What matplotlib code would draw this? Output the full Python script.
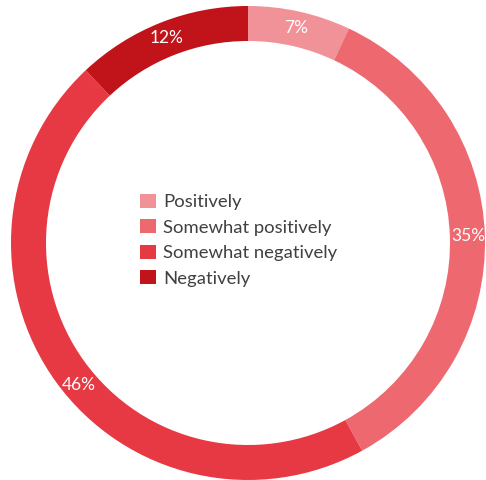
import matplotlib
matplotlib.use("Agg")
import matplotlib.pyplot as plt
import numpy as np

categories = ["Positively", "Somewhat positively", "Somewhat negatively", "Negatively"]
shares = [7, 35, 46, 12]
colors = ["#F19299", "#EE686F", "#E63944", "#C0141A"]
# small angular nudges (degrees) for the percentage labels
label_nudge = [0, 0, 4, 0]

W, H, DPI = 486, 480, 100
fig = plt.figure(figsize=(W / DPI, H / DPI), dpi=DPI)

cx, cy, R = 248, 243, 237
ax = fig.add_axes([(cx - R) / W, (H - cy - R) / H, 2 * R / W, 2 * R / H])
ax.set_aspect("equal")
ax.axis("off")

ring = 35 / R
wedges, _ = ax.pie(shares, colors=colors, startangle=90, counterclock=False,
                   radius=1.0, wedgeprops=dict(width=ring, linewidth=0))
ax.set_xlim(-1, 1)
ax.set_ylim(-1, 1)

# percentage labels sit in the middle of the ring
r_lab = 1 - ring / 2 + 0.005
for w, v, nd in zip(wedges, shares, label_nudge):
    mid = np.deg2rad((w.theta1 + w.theta2) / 2 + nd)
    ax.text(r_lab * np.cos(mid), r_lab * np.sin(mid), f"{v}%", color="white",
            fontsize=12.5, ha="center", va="center", family="Lato")

leg = ax.legend(wedges, categories, loc="upper left",
                bbox_to_anchor=(140 / W, 1 - 194 / H), bbox_transform=fig.transFigure,
                frameon=False, prop=dict(family="Lato", size=13.3),
                handlelength=0.88, handleheight=0.8, handletextpad=0.38,
                labelspacing=0.48, borderpad=0, borderaxespad=0)
for t in leg.get_texts():
    t.set_color("#404040")

fig.savefig("out.png", dpi=DPI)
